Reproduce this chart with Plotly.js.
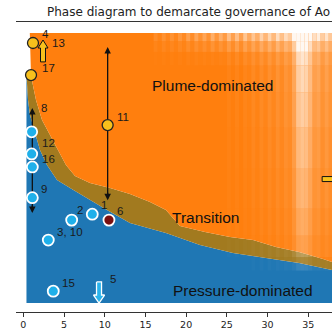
<!DOCTYPE html>
<html><head><meta charset="utf-8">
<script src="https://cdn.plot.ly/plotly-3.0.1.min.js"></script>
<style>html,body{margin:0;padding:0;background:#fff;overflow:hidden}</style>
</head><body><div id="chart" style="width:332px;height:333px"></div>
<script>
// ---- data (x = horizontal axis value, y = relative vertical position 0..100) ----
const pressureEdgeX = [0.39,0.58,0.82,1.31,2.05,2.91,4.14,6.10,8.19,10.28,13.10,17.52,21.70,25.75,29.80,33.86,37.91];
const pressureEdgeY = [84.4,75.2,69.6,64.1,56.7,51.1,45.6,41.9,38.1,34.4,29.6,25.9,21.5,18.5,16.7,14.8,12.2];
const plumeEdgeX = [0.95,1.56,2.30,3.28,4.26,5.24,6.35,8.19,10.65,13.10,15.56,17.52,19.24,22.31,25.38,28.21,31.03,33.86,36.81,37.91];
const plumeEdgeY = [84.1,75.2,67.8,62.2,56.7,51.1,47.0,44.4,42.6,40.4,37.4,34.4,28.5,26.3,24.4,23.3,20.7,18.9,16.3,15.2];
const plumeTopX = [0.80, 37.91];
const plumeTopY = [100, 100];

// sparse-sampling (faded) columns of the plume region: streaks along the top edge and full-height fading on the right
const fadeColX = [16.0,16.5,17.0,17.5,18.0,18.5,19.0,19.5,20.0,20.5,21.0,21.5,22.0,22.5,23.0,23.5,
                  24.0,24.5,25.0,25.5,26.0,26.5,27.0,27.5,28.0,28.5,29.0,29.5,30.0,30.5,31.0,31.5,
                  32.0,32.5,33.0,33.5,34.0,34.5,35.0,35.5,36.0,36.5,37.0,37.5];
const fadeTop = [0.15,0.05,0.2,0.08,0.2,0.08,0.25,0.12, 0.35,0.15,0.4,0.2,0.4,0.2,0.5,0.25,
                 0.5,0.3,0.6,0.35,0.6,0.35,0.65,0.4, 0.6,0.45,0.7,0.5,0.7,0.5,0.75,0.55,
                 0.7,0.6,0.8,0.85,0.9,0.85,0.7,0.6, 0.7,0.55,0.65,0.5];
const fadeBody = [0,0,0,0,0,0,0,0, 0,0,0,0,0,0,0,0,
                  0,0,0.04,0,0.05,0,0.06,0.03, 0.1,0.04,0.12,0.06,0.15,0.08,0.18,0.1,
                  0.2,0.15,0.35,0.7,0.8,0.75,0.55,0.3, 0.35,0.2,0.3,0.2];
const fadeRowY = [12, 17, 25, 35, 50, 65, 78, 88, 93, 97, 100];
const fadeTopProfile = [0, 0, 0, 0, 0, 0, 0, 0, 0.15, 0.5, 1.0];
const fadeBodyProfile = [0, 0.3, 0.4, 0.5, 0.6, 0.7, 0.85, 0.9, 0.93, 0.96, 1.0];

const yellowX = [1.19, 0.95, 10.36];
const yellowY = [96.3, 84.4, 65.9];
const cyanX = [1.03, 1.03, 1.11, 1.11, 5.94, 8.47, 3.07, 3.68];
const cyanY = [63.4, 55.2, 50.4, 39.0, 30.7, 32.9, 23.3, 4.4];
const redX = [10.52];
const redY = [30.7];

const lineArrowX = [1.11, 10.36];
const lineArrowTop = [72.2, 94.8];
const lineArrowBottom = [33.3, 38.1];

const upBlockX = [2.42], upBlockBase = [89.3], upBlockTip = [97.4];
const downBlockX = [9.30], downBlockBase = [7.8], downBlockTip = [0.0];
const rightBlockY = [45.9], rightBlockStart = [36.7], rightBlockEnd = [39.0];

const labelText = ['4','13','17','8','11','12','16','9','2','1','6','3, 10','15','5'];
const labelX = [2.05,3.28,2.05,1.93,11.26,2.05,2.05,1.93,6.35,9.33,11.26,3.89,4.50,10.40];
const labelY = [99.6,96.3,87.0,72.2,68.9,59.3,53.3,42.2,34.4,36.3,34.1,26.3,7.4,8.9];

const regionText = ['Plume-dominated','Transition','Pressure-dominated'];
const regionX = [23.29, 22.38, 27.04];
const regionY = [80.4, 31.5, 4.8];

const xTicks = [0,5,10,15,20,25,30,35];
const titleText = 'Phase diagram to demarcate governance of Ao';

// ---- layout geometry ----
const W = 332, H = 333;
const M = {l:16, r:0, t:22, b:21};
const xRange = [-0.896, 37.91];
const yRange = [-3.33, 104.07];
const PXX = (W - M.l - M.r) / (xRange[1] - xRange[0]);
const PXY = (H - M.t - M.b) / (yRange[1] - yRange[0]);

function vArrow(x, yBase, yTip, shaftPx, headPx, headLenPx) {
  const s = Math.sign(yTip - yBase);
  const sw = shaftPx / 2 / PXX, hw = headPx / 2 / PXX, neck = yTip - s * headLenPx / PXY;
  return {x: [x-sw, x-sw, x-hw, x, x+hw, x+sw, x+sw, x-sw],
          y: [yBase, neck, neck, yTip, neck, neck, yBase, yBase]};
}
function hArrow(y, x0, x1, shaftPx, headPx, headLenPx) {
  const sh = shaftPx / 2 / PXY, hh = headPx / 2 / PXY, neck = x1 - headLenPx / PXX;
  return {x: [x0, neck, neck, x1, neck, neck, x0, x0],
          y: [y-sh, y-sh, y-hh, y, y+hh, y+sh, y+sh, y-sh]};
}

const BLUE = '#1f77b4', ORANGE = '#ff7f0e', OLIVE = '#a27a1f';
const traces = [];
traces.push({x: pressureEdgeX, y: pressureEdgeY, mode: 'lines', line: {width: 0, color: BLUE}, fill: 'tozeroy', fillcolor: BLUE, hoverinfo: 'skip'});
traces.push({x: plumeEdgeX, y: plumeEdgeY, mode: 'lines', line: {width: 0, color: OLIVE}, fill: 'tonexty', fillcolor: OLIVE, hoverinfo: 'skip'});
traces.push({x: plumeTopX, y: plumeTopY, mode: 'lines', line: {width: 0, color: ORANGE}, fill: 'tonexty', fillcolor: ORANGE, hoverinfo: 'skip'});

// faded columns: stacked white bands
for (let i = 0; i < fadeColX.length; i++) {
  const x0 = fadeColX[i], x1 = x0 + 0.5;
  for (let k = 0; k < fadeRowY.length - 1; k++) {
    const tp = (fadeTopProfile[k] + fadeTopProfile[k + 1]) / 2;
    const bp = (fadeBodyProfile[k] + fadeBodyProfile[k + 1]) / 2;
    const a = Math.min(0.95, fadeTop[i] * tp + fadeBody[i] * bp);
    if (a < 0.01) continue;
    const y0 = fadeRowY[k], y1 = fadeRowY[k + 1];
    traces.push({x: [x0, x1, x1, x0, x0], y: [y0, y0, y1, y1, y0], mode: 'none', fill: 'toself',
      fillcolor: 'rgba(255,255,255,' + a.toFixed(3) + ')', hoverinfo: 'skip'});
  }
}

// vertical line arrows (shafts)
for (let i = 0; i < lineArrowX.length; i++) {
  traces.push({x: [lineArrowX[i], lineArrowX[i]], y: [lineArrowBottom[i] + 6/PXY, lineArrowTop[i] - 6/PXY], mode: 'lines', line: {color: '#111', width: 1.3}, hoverinfo: 'skip'});
}
// block arrows
for (let i = 0; i < upBlockX.length; i++) {
  const a = vArrow(upBlockX[i], upBlockBase[i], upBlockTip[i], 5, 10, 8);
  traces.push({x: a.x, y: a.y, mode: 'lines', fill: 'toself', fillcolor: '#f8c01c', line: {color: '#111', width: 1}, hoverinfo: 'skip'});
}
for (let i = 0; i < downBlockX.length; i++) {
  const a = vArrow(downBlockX[i], downBlockBase[i], downBlockTip[i], 5, 11, 8);
  traces.push({x: a.x, y: a.y, mode: 'lines', fill: 'toself', fillcolor: '#2ab4ec', line: {color: '#ffffff', width: 1.3}, hoverinfo: 'skip'});
}
for (let i = 0; i < rightBlockY.length; i++) {
  const a = hArrow(rightBlockY[i], rightBlockStart[i], rightBlockEnd[i], 5, 10, 8);
  traces.push({x: a.x, y: a.y, mode: 'lines', fill: 'toself', fillcolor: '#f8c01c', line: {color: '#111', width: 1}, hoverinfo: 'skip'});
}
// site markers
traces.push({x: cyanX, y: cyanY, mode: 'markers', marker: {size: 11, color: '#1fb0ea', line: {color: '#ffffff', width: 1.8}}, hoverinfo: 'skip'});
traces.push({x: redX, y: redY, mode: 'markers', marker: {size: 11, color: '#7a1010', line: {color: '#ffffff', width: 1.8}}, hoverinfo: 'skip'});
traces.push({x: yellowX, y: yellowY, mode: 'markers', marker: {size: 11, color: '#f8c01c', line: {color: '#222222', width: 1.3}}, hoverinfo: 'skip'});

const annotations = [];
for (let i = 0; i < lineArrowX.length; i++) {
  annotations.push({x: lineArrowX[i], y: lineArrowTop[i], ax: 0, ay: 9, text: '', showarrow: true, arrowhead: 2, arrowsize: 1, arrowwidth: 1.3, arrowcolor: '#111'});
  annotations.push({x: lineArrowX[i], y: lineArrowBottom[i], ax: 0, ay: -9, text: '', showarrow: true, arrowhead: 2, arrowsize: 1, arrowwidth: 1.3, arrowcolor: '#111'});
}
for (let i = 0; i < labelText.length; i++) {
  annotations.push({x: labelX[i], y: labelY[i], text: labelText[i], showarrow: false, xanchor: 'left', yanchor: 'middle',
    font: {family: 'Liberation Sans, Arial, sans-serif', size: 11.5, color: '#1a1a1a'}});
}
for (let i = 0; i < regionText.length; i++) {
  annotations.push({x: regionX[i], y: regionY[i], text: regionText[i], showarrow: false, xanchor: 'center', yanchor: 'middle',
    font: {family: 'Liberation Sans, Arial, sans-serif', size: 15.5, color: '#111'}});
}

const layout = {
  width: W, height: H, margin: M, showlegend: false,
  paper_bgcolor: '#ffffff', plot_bgcolor: '#ffffff',
  title: {text: titleText, font: {family: 'DejaVu Sans, sans-serif', size: 12, color: '#222'},
          xref: 'container', yref: 'container', x: 47/W, xanchor: 'left', y: 1 - 11.7/H, yanchor: 'middle'},
  xaxis: {range: xRange, tickvals: xTicks, ticktext: xTicks.map(String), ticks: 'outside', ticklen: 4, tickwidth: 1, tickcolor: '#333',
          showline: true, linecolor: '#333', linewidth: 1, mirror: true, showgrid: false, zeroline: false,
          tickfont: {family: 'DejaVu Sans, sans-serif', size: 9.5, color: '#222'}},
  yaxis: {range: yRange, visible: false, showgrid: false, zeroline: false},
  annotations: annotations
};
Plotly.newPlot('chart', traces, layout, {staticPlot: true, displayModeBar: false});
</script></body></html>
